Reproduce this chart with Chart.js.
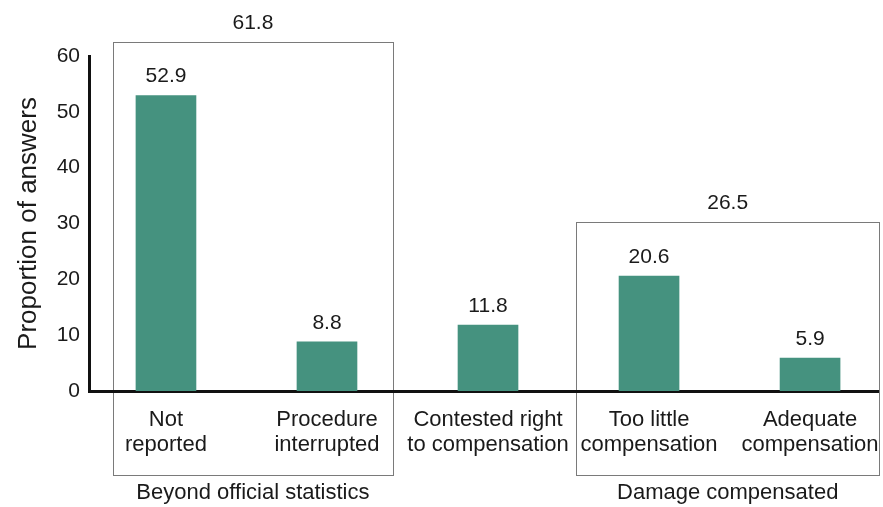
<!DOCTYPE html>
<html>
<head>
<meta charset="utf-8">
<script src="https://cdn.jsdelivr.net/npm/chart.js@4.4.1/dist/chart.umd.min.js"></script>
<style>
  html, body { margin: 0; padding: 0; background: #fff; }
</style>
</head>
<body>
<canvas id="myChart" width="883" height="507"></canvas>
<script>
const categories = [['Not', 'reported'], ['Procedure', 'interrupted'], ['Contested right', 'to compensation'], ['Too little', 'compensation'], ['Adequate', 'compensation']];
const shares = [52.9, 8.8, 11.8, 20.6, 5.9];
const yTicks = [0, 10, 20, 30, 40, 50, 60];
const groupNames = ['Beyond official statistics', 'Damage compensated'];
const groupTotals = [61.8, 26.5];

const FONT = "'Liberation Sans', Arial, sans-serif";
const TEXT = '#1a1a1a';

// frames around the two groups, drawn behind the axes
const groupFrames = {
    id: 'groupFrames',
    beforeDraw(chart, args, opts) {
        const { ctx, chartArea, scales: { x, y } } = chart;
        ctx.save();
        ctx.strokeStyle = '#7a7a7a';
        ctx.lineWidth = 1;
        opts.frames.forEach((f) => {
            const left = Math.round(x.getPixelForValue(f.from)) + 0.5;
            const right = Math.round(x.getPixelForValue(f.to)) + 0.5;
            const top = Math.round(y.getPixelForValue(f.top)) + 0.5;
            const bottom = Math.round(chartArea.bottom + opts.below) + 0.5;
            ctx.strokeRect(left, top, right - left, bottom - top);
        });
        ctx.restore();
    },
    afterDatasetsDraw(chart, args, opts) {
        const { ctx, chartArea, scales: { x, y } } = chart;
        ctx.save();
        ctx.fillStyle = TEXT;
        ctx.textAlign = 'center';
        ctx.textBaseline = 'middle';

        opts.frames.forEach((f, g) => {
            const left = x.getPixelForValue(f.from);
            const right = x.getPixelForValue(f.to);
            const top = y.getPixelForValue(f.top);
            const mid = (left + right) / 2;
            ctx.font = '21px ' + FONT;
            ctx.fillText(groupTotals[g].toFixed(1), mid, top - 19);
            ctx.font = '22px ' + FONT;
            ctx.fillText(groupNames[g], mid, chartArea.bottom + 102);
        });

        ctx.font = '21px ' + FONT;
        const meta = chart.getDatasetMeta(0);
        meta.data.forEach((bar, i) => {
            ctx.fillText(shares[i].toFixed(1), bar.x, bar.y - 19);
        });
        ctx.restore();
    }
};

const ctx = document.getElementById('myChart').getContext('2d');
const myChart = new Chart(ctx, {
    type: 'bar',
    data: {
        datasets: [{
            data: shares.map((v, i) => ({ x: i, y: v })),
            backgroundColor: '#45927f',
            barThickness: 60
        }]
    },
    options: {
        responsive: false,
        animation: false,
        devicePixelRatio: 1,
        layout: { padding: { top: 56, right: 5, left: 0, bottom: 0 } },
        plugins: {
            legend: { display: false },
            tooltip: { enabled: false },
            groupFrames: {
                below: 84,
                frames: [
                    { from: -0.33, to: 1.41, top: 62.5 },
                    { from: 2.547, to: 4.43, top: 30.3 }
                ]
            }
        },
        scales: {
            x: {
                type: 'linear',
                offset: false,
                min: -0.478,
                max: 4.422,
                grid: { display: false, drawTicks: false, offset: false },
                border: { display: true, color: '#111', width: 3 },
                afterBuildTicks: (scale) => {
                    scale.ticks = categories.map((c, i) => ({ value: i }));
                },
                afterFit: (scale) => {
                    scale.height = 116;
                    scale.paddingLeft = 0;
                    scale.paddingRight = 0;
                },
                ticks: {
                    autoSkip: false,
                    maxRotation: 0,
                    padding: 16,
                    color: TEXT,
                    font: { family: FONT, size: 22, lineHeight: 1.14 },
                    callback: (value) => categories[value]
                }
            },
            y: {
                min: 0,
                max: 60,
                grid: { display: false, drawTicks: false },
                border: { display: true, color: '#111', width: 3 },
                afterBuildTicks: (scale) => {
                    scale.ticks = yTicks.map((v) => ({ value: v }));
                },
                afterFit: (scale) => { scale.width = 89; },
                ticks: {
                    padding: 9,
                    color: TEXT,
                    font: { family: FONT, size: 21 }
                },
                title: {
                    display: true,
                    text: 'Proportion of answers',
                    color: TEXT,
                    padding: { top: 13, bottom: 0 },
                    font: { family: FONT, size: 26 }
                }
            }
        }
    },
    plugins: [groupFrames]
});
</script>
</body>
</html>
